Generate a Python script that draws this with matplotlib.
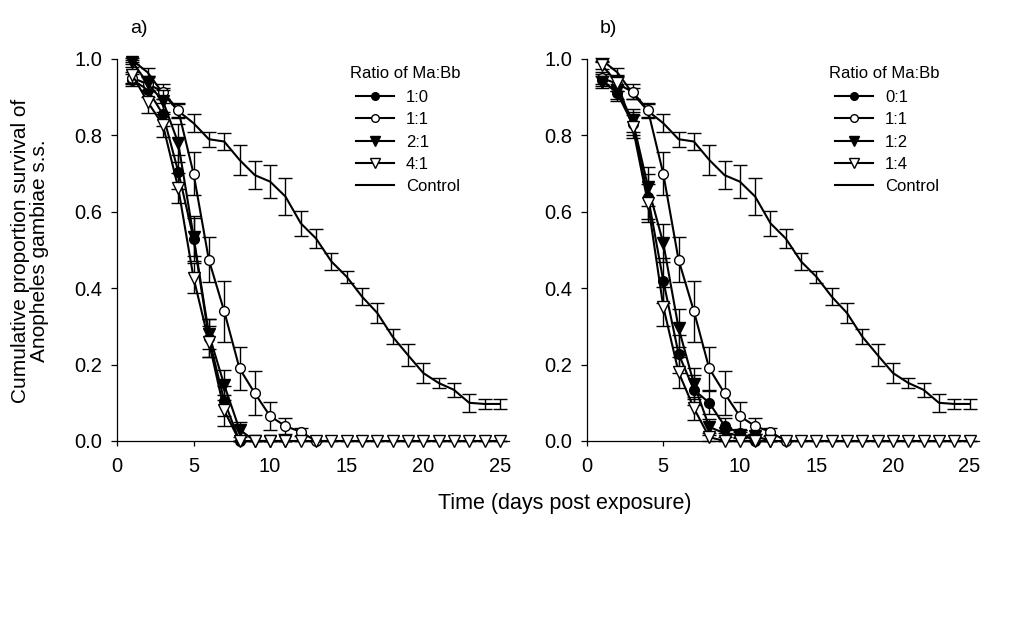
import numpy as np
import matplotlib
matplotlib.use("Agg")
import matplotlib.pyplot as plt
from matplotlib.lines import Line2D

plt.rcParams['font.family'] = ['Liberation Sans', 'DejaVu Sans']

days = np.arange(1, 26)

# Control (same in both panels)
ctrl = [0.997, 0.965, 0.91, 0.864, 0.832, 0.79, 0.784, 0.736, 0.696, 0.679,
        0.64, 0.57, 0.53, 0.47, 0.43, 0.378, 0.335, 0.273, 0.225, 0.178,
        0.152, 0.134, 0.10, 0.097, 0.097]
ctrl_err = [0.005, 0.012, 0.015, 0.017, 0.023, 0.02, 0.022, 0.04, 0.037, 0.044,
            0.048, 0.033, 0.026, 0.023, 0.016, 0.022, 0.026, 0.02, 0.029, 0.025,
            0.014, 0.018, 0.023, 0.014, 0.014]

# 1:1 (shared)
r11 = [0.95, 0.935, 0.914, 0.866, 0.70, 0.474, 0.34, 0.19, 0.125, 0.065, 0.039, 0.024, 0.0]
r11_err = [0.015, 0.02, 0.02, 0.02, 0.057, 0.059, 0.08, 0.057, 0.057, 0.036, 0.02, 0.01, 0.0]

# Panel a
a_10 = [0.945, 0.92, 0.855, 0.705, 0.53, 0.27, 0.105, 0.0]
a_10_err = [0.015, 0.02, 0.03, 0.045, 0.06, 0.05, 0.04, 0.0]
a_21 = [0.993, 0.936, 0.89, 0.78, 0.535, 0.28, 0.147, 0.03, 0.0, 0.0, 0.0]
a_21_err = [0.005, 0.02, 0.03, 0.05, 0.05, 0.04, 0.04, 0.02, 0.0, 0.0, 0.0]
a_41 = [0.958, 0.888, 0.827, 0.662, 0.427, 0.26, 0.08] + [0.0] * 18
a_41_err = [0.02, 0.03, 0.03, 0.04, 0.04, 0.04, 0.04] + [0.0] * 18

# Panel b
b_01 = [0.945, 0.91, 0.83, 0.64, 0.42, 0.228, 0.134, 0.10, 0.04, 0.02, 0.0]
b_01_err = [0.015, 0.02, 0.03, 0.06, 0.06, 0.05, 0.04, 0.03, 0.02, 0.01, 0.0]
b_12 = [0.94, 0.915, 0.84, 0.666, 0.518, 0.296, 0.15, 0.037, 0.02, 0.015, 0.013, 0.0]
b_12_err = [0.015, 0.02, 0.03, 0.05, 0.05, 0.05, 0.04, 0.02, 0.01, 0.008, 0.006, 0.0]
b_14 = [0.984, 0.937, 0.823, 0.623, 0.352, 0.18, 0.086, 0.01] + [0.0] * 17
b_14_err = [0.01, 0.02, 0.03, 0.05, 0.05, 0.04, 0.03, 0.01] + [0.0] * 17

labels_a = ['1:0', '1:1', '2:1', '4:1', 'Control']
labels_b = ['0:1', '1:1', '1:2', '1:4', 'Control']

fig = plt.figure(figsize=(10.27, 6.27), dpi=100)
W, H = 1027, 627
ax_w = 392 / W
ax_h = 382 / H
bottom = 1 - 441 / H
axa = fig.add_axes([117 / W, bottom, ax_w, ax_h])
axb = fig.add_axes([586.7 / W, bottom, ax_w, ax_h])

styles = [
    dict(marker='o', mfc='black', mec='black', ms=7),
    dict(marker='o', mfc='white', mec='black', ms=7),
    dict(marker='v', mfc='black', mec='black', ms=8),
    dict(marker='v', mfc='white', mec='black', ms=8),
]


def draw(ax, series, errs, labels, tag, legx):
    ax.errorbar(days, ctrl, yerr=ctrl_err, color='black', lw=1.5,
                elinewidth=1, capsize=5, capthick=1, clip_on=False, zorder=2)
    for i in range(4):
        y = series[i]
        x = days[:len(y)]
        st = styles[i]
        ax.errorbar(x, y, yerr=errs[i], color='black', lw=1.5,
                    elinewidth=1, capsize=5, capthick=1, mew=1,
                    clip_on=False, zorder=3 + i, **st)
    ax.set_xlim(0, 25.6)
    ax.set_ylim(0, 1.0)
    ax.set_xticks([0, 5, 10, 15, 20, 25])
    ax.set_yticks([0, 0.2, 0.4, 0.6, 0.8, 1.0])
    ax.set_yticklabels(['0.0', '0.2', '0.4', '0.6', '0.8', '1.0'])
    for s in ['top', 'right']:
        ax.spines[s].set_visible(False)
    for s in ['left', 'bottom']:
        ax.spines[s].set_linewidth(0.9)
    ax.tick_params(axis='x', length=3.5, width=0.9, pad=8, labelsize=14.5)
    ax.tick_params(axis='y', length=4.5, width=0.9, pad=6, labelsize=14.5)
    ax.text(0.033, 1.068, tag, transform=ax.transAxes, fontsize=14,
            va='baseline', ha='left')
    # legend
    handles = []
    for i in range(4):
        st = dict(styles[i])
        st['ms'] = st['ms'] - 1.5
        handles.append(Line2D([], [], color='black', lw=1.5, **st))
    handles.append(Line2D([], [], color='black', lw=1.5))
    ax.text(legx - 0.016, 0.963, 'Ratio of Ma:Bb', transform=ax.transAxes,
            fontsize=12, va='center', ha='left')
    ax.legend(handles, labels, loc='upper left', bbox_to_anchor=(legx, 0.919),
              frameon=False, fontsize=12, borderpad=0, borderaxespad=0,
              handlelength=2.3, handletextpad=0.7, labelspacing=0.44)


draw(axa, [a_10, r11, a_21, a_41], [a_10_err, r11_err, a_21_err, a_41_err],
     labels_a, 'a)', (356 - 117) / 392)
draw(axb, [b_01, r11, b_12, b_14], [b_01_err, r11_err, b_12_err, b_14_err],
     labels_b, 'b)', (835 - 586.7) / 392)

fig.text(11 / W, 1 - 251 / H, 'Cumulative proportion survival of\nAnopheles gambiae s.s.',
         rotation=90, ha='left', va='center', fontsize=15, linespacing=1.0,
         multialignment='center')
fig.text(565 / W, 1 - 503 / H, 'Time (days post exposure)', ha='center',
         va='center', fontsize=15.5)

fig.savefig('out.png', dpi=100)
